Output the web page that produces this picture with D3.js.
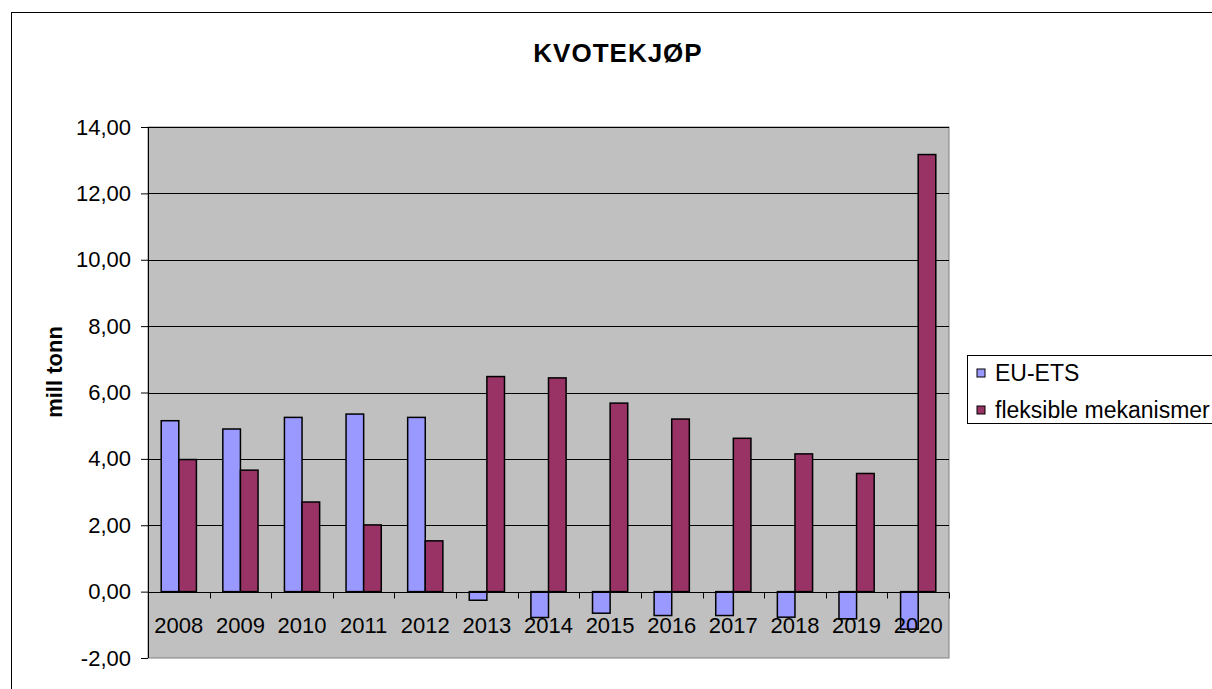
<!DOCTYPE html>
<html>
<head>
<meta charset="utf-8">
<script src="https://cdn.jsdelivr.net/npm/d3@7"></script>
<style>
  body { margin: 0; background: #fff; }
  svg { display: block; font-family: "Liberation Sans", Arial, sans-serif; }
</style>
</head>
<body>
<div id="chart"></div>
<script>
const years = ["2008", "2009", "2010", "2011", "2012", "2013", "2014", "2015", "2016", "2017", "2018", "2019", "2020"];
const euEts = [5.15, 4.90, 5.25, 5.35, 5.25, -0.26, -0.78, -0.65, -0.72, -0.72, -0.77, -0.82, -1.13];
const fleksible = [3.98, 3.66, 2.70, 2.01, 1.53, 6.48, 6.44, 5.68, 5.20, 4.62, 4.15, 3.56, 13.17];
const seriesNames = ["EU-ETS", "fleksible mekanismer"];
const seriesColors = ["#9999FF", "#993366"];
const yTicks = [-2, 0, 2, 4, 6, 8, 10, 12, 14];

const width = 1212;
const height = 689;
const marginLeft = 148;
const marginRight = 949;
const marginTop = 127;
const marginBottom = 658;

const svg = d3.select("#chart").append("svg")
    .attr("width", width)
    .attr("height", height)
    .attr("viewBox", [0, 0, width, height]);

// outer chart border
svg.append("rect")
    .attr("x", 11.5).attr("y", 12.5)
    .attr("width", 1400).attr("height", 900)
    .attr("fill", "#fff")
    .attr("stroke", "#000")
    .attr("stroke-width", 1);

const x = d3.scaleBand()
    .domain(years)
    .range([marginLeft, marginRight]);

const bandW = x.bandwidth();
const barW = bandW / 3.5;

const y = d3.scaleLinear()
    .domain([-2, 14])
    .range([marginBottom, marginTop]);

// plot area
svg.append("rect")
    .attr("x", marginLeft).attr("y", marginTop)
    .attr("width", marginRight - marginLeft)
    .attr("height", marginBottom - marginTop)
    .attr("fill", "#C0C0C0")
    .attr("stroke", "#808080")
    .attr("stroke-width", 1);

// gridlines
svg.append("g")
    .selectAll("line")
    .data(yTicks.filter(d => d > -2))
    .join("line")
    .attr("x1", marginLeft).attr("x2", marginRight)
    .attr("y1", d => Math.round(y(d)) + 0.5)
    .attr("y2", d => Math.round(y(d)) + 0.5)
    .attr("stroke", "#000")
    .attr("stroke-width", 1);

// bars
const data = years.map((yr, i) => ({ year: yr, values: [euEts[i], fleksible[i]] }));

const groups = svg.append("g")
    .selectAll("g")
    .data(data)
    .join("g");

groups.selectAll("rect")
    .data(d => d.values.map((v, j) => ({ year: d.year, v, j })))
    .join("rect")
    .attr("x", d => x(d.year) + bandW * 0.75 / 3.5 + d.j * barW)
    .attr("y", d => y(Math.max(0, d.v)))
    .attr("width", barW)
    .attr("height", d => Math.abs(y(d.v) - y(0)))
    .attr("fill", d => seriesColors[d.j])
    .attr("stroke", "#000")
    .attr("stroke-width", 1.5);

// y axis
svg.append("g")
    .attr("transform", `translate(${marginLeft},0)`)
    .call(d3.axisLeft(y).tickValues(yTicks).tickSize(7)
        .tickFormat(d => d3.format(".2f")(d).replace(".", ",").replace("−", "-")))
    .call(g => g.select(".domain").attr("stroke", "#000").attr("d", `M0.5,${marginTop}V${marginBottom}`))
    .call(g => g.selectAll(".tick line").attr("stroke", "#000"))
    .call(g => g.selectAll(".tick text")
        .attr("x", -17)
        .attr("font-size", 22)
        .attr("font-family", "Liberation Sans, Arial, sans-serif")
        .attr("fill", "#000"));

// x axis at zero
const xAxis = svg.append("g")
    .attr("transform", `translate(0,${Math.round(y(0)) + 0.5})`);

xAxis.append("line")
    .attr("x1", marginLeft).attr("x2", marginRight)
    .attr("stroke", "#000");

xAxis.selectAll("line.tick")
    .data(years.map(yr => x(yr)).concat([marginRight]))
    .join("line")
    .attr("class", "tick")
    .attr("x1", d => Math.round(d) + 0.5).attr("x2", d => Math.round(d) + 0.5)
    .attr("y1", 0).attr("y2", 6)
    .attr("stroke", "#000");

xAxis.selectAll("text")
    .data(years)
    .join("text")
    .attr("x", d => x(d) + bandW / 2)
    .attr("y", 40)
    .attr("text-anchor", "middle")
    .attr("font-size", 22)
    .attr("fill", "#000")
    .text(d => d);

// title
svg.append("text")
    .attr("x", 618).attr("y", 62)
    .attr("text-anchor", "middle")
    .attr("font-size", 26)
    .attr("font-weight", "bold")
    .attr("letter-spacing", 1)
    .text("KVOTEKJØP");

// y title
svg.append("text")
    .attr("transform", "translate(62,372) rotate(-90)")
    .attr("text-anchor", "middle")
    .attr("font-size", 22)
    .attr("font-weight", "bold")
    .text("mill tonn");

// legend
const legend = svg.append("g");
legend.append("rect")
    .attr("x", 967.5).attr("y", 355.5)
    .attr("width", 300).attr("height", 68)
    .attr("fill", "#fff")
    .attr("stroke", "#000");

const items = legend.selectAll("g")
    .data(seriesNames)
    .join("g")
    .attr("transform", (d, i) => `translate(977,${369 + i * 37})`);

items.append("rect")
    .attr("width", 8).attr("height", 8)
    .attr("fill", (d, i) => seriesColors[i])
    .attr("stroke", "#000");

items.append("text")
    .attr("x", 18).attr("y", 12)
    .attr("font-size", 23)
    .text(d => d);
</script>
</body>
</html>
